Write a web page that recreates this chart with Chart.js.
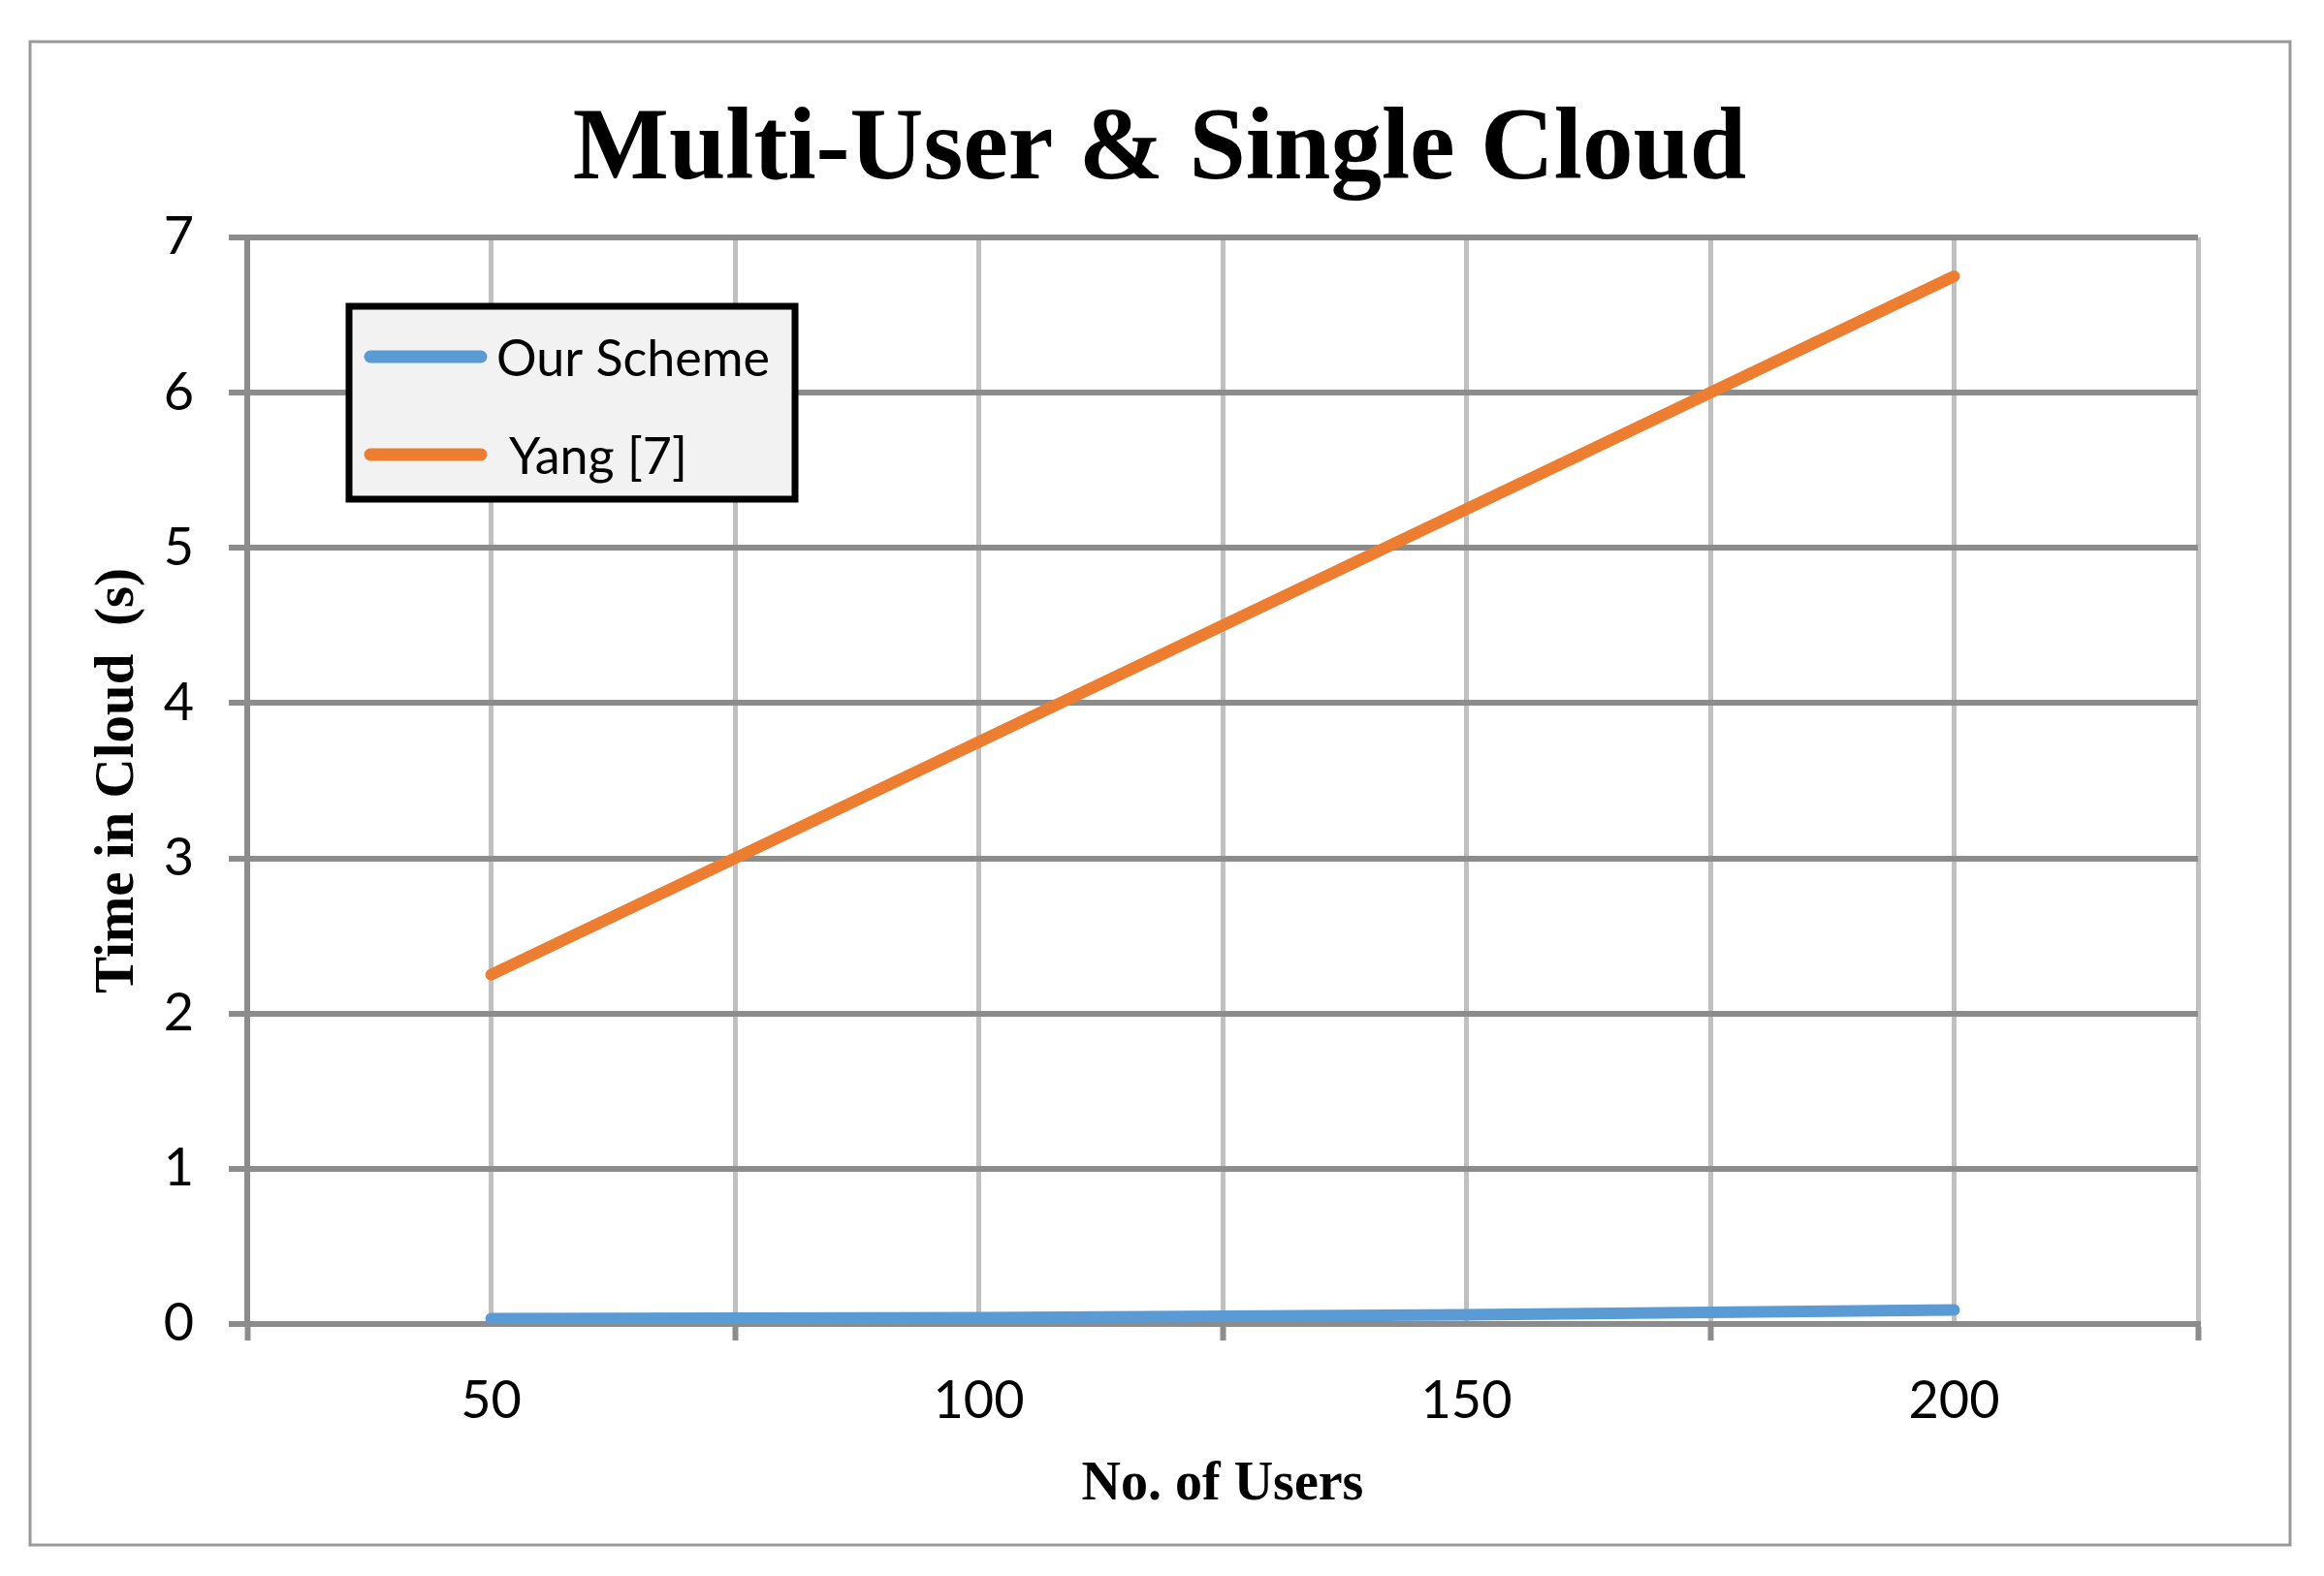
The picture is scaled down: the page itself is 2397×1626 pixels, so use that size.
<!DOCTYPE html>
<html>
<head>
<meta charset="utf-8">
<title>Multi-User & Single Cloud</title>
<script src="https://cdn.jsdelivr.net/npm/chart.js@4.4.1/dist/chart.umd.min.js"></script>
<style>
    html, body { margin: 0; padding: 0; background: #ffffff; }
    #wrap { position: relative; width: 2397px; height: 1626px; }
</style>
</head>
<body>
<div id="wrap"><canvas id="myChart"></canvas></div>
<script>
var chartTitle = 'Multi-User & Single Cloud';
var xTitle = 'No. of Users';
var yTitle = 'Time in Cloud  (s)';

var users = [50, 100, 150, 200];
var ourScheme = [0.035, 0.04, 0.06, 0.09];
var yang = [2.25, 3.75, 5.25, 6.75];

var seriesNames = ['Our Scheme', 'Yang [7]'];
var seriesColors = ['#5b9bd5', '#ed7d31'];

var xTicks = [25, 50, 75, 100, 125, 150, 175, 200, 225];
var xLabels = [50, 100, 150, 200];
var yTicks = [0, 1, 2, 3, 4, 5, 6, 7];

function toPoints(values) {
    return users.map(function (u, i) {
        return { x: u, y: values[i] };
    });
}

var data = {
    datasets: [ourScheme, yang].map(function (values, i) {
        return {
            label: seriesNames[i],
            data: toPoints(values),
            borderColor: seriesColors[i],
            backgroundColor: seriesColors[i],
            borderWidth: 12,
            borderCapStyle: 'round',
            borderJoinStyle: 'round',
            pointRadius: 0,
            tension: 0
        };
    })
};

// frame + title + legend box, drawn like the Excel original
var decorPlugin = {
    id: 'decor',
    beforeDraw: function (chart) {
        var ctx = chart.ctx;
        ctx.save();
        ctx.strokeStyle = '#9a9a9a';
        ctx.lineWidth = 3;
        ctx.strokeRect(31, 43, 2331, 1551);
        ctx.restore();
    },
    afterDraw: function (chart) {
        var ctx = chart.ctx;
        ctx.save();
        ctx.fillStyle = '#000';
        ctx.font = 'bold 105px "Liberation Serif"';
        ctx.textAlign = 'center';
        ctx.textBaseline = 'middle';
        ctx.fillText(chartTitle, 1196, 157);

        // legend
        ctx.fillStyle = '#f2f2f2';
        ctx.fillRect(360, 316, 460, 199);
        ctx.strokeStyle = '#000';
        ctx.lineWidth = 7;
        ctx.strokeRect(360, 316, 460, 199);
        var rows = [368, 469];
        var textX = [512, 525];
        chart.data.datasets.forEach(function (ds, i) {
            ctx.strokeStyle = ds.borderColor;
            ctx.lineWidth = 13;
            ctx.lineCap = 'round';
            ctx.beginPath();
            ctx.moveTo(382, rows[i]);
            ctx.lineTo(496, rows[i]);
            ctx.stroke();
            ctx.fillStyle = '#000';
            ctx.font = '52px Lato';
            ctx.textAlign = 'left';
            ctx.textBaseline = 'middle';
            ctx.fillText(ds.label, textX[i], rows[i] + 3);
        });
        ctx.restore();
    }
};

var options = {
    responsive: true,
    maintainAspectRatio: false,
    animation: false,
    layout: { padding: { left: 31, right: 130, top: 245, bottom: 32 } },
    plugins: {
        legend: { display: false },
        title: { display: false },
        tooltip: { enabled: false }
    },
    scales: {
        x: {
            type: 'linear',
            min: 25,
            max: 225,
            afterBuildTicks: function (scale) {
                scale.ticks = xTicks.map(function (v) { return { value: v }; });
            },
            afterFit: function (scale) { scale.height = 228; },
            grid: {
                color: '#c0c0c0',
                lineWidth: 5,
                tickLength: 17,
                tickWidth: 6,
                tickColor: function (c) {
                    return xLabels.indexOf(c.tick.value) >= 0 ? 'rgba(0,0,0,0)' : '#8c8c8c';
                }
            },
            border: { color: '#8c8c8c', width: 6 },
            ticks: {
                autoSkip: false,
                maxRotation: 0,
                padding: 30,
                color: '#000',
                font: { family: 'Lato', size: 54 },
                callback: function (v) { return xLabels.indexOf(v) >= 0 ? String(v) : ''; }
            },
            title: {
                display: true,
                text: xTitle,
                color: '#000',
                font: { family: 'Liberation Serif', size: 56, weight: 'bold' },
                padding: { top: 0, bottom: 28 }
            }
        },
        y: {
            min: 0,
            max: 7,
            afterBuildTicks: function (scale) {
                scale.ticks = yTicks.map(function (v) { return { value: v }; });
            },
            afterFit: function (scale) { scale.width = 224; },
            grid: {
                color: '#8c8c8c',
                lineWidth: 6,
                tickLength: 19,
                tickColor: '#8c8c8c'
            },
            border: { color: '#8c8c8c', width: 6 },
            ticks: {
                padding: 36,
                color: '#000',
                font: { family: 'Lato', size: 54 }
            },
            title: {
                display: true,
                text: yTitle,
                color: '#000',
                font: { family: 'Liberation Serif', size: 57, weight: 'bold' },
                padding: { top: 57, bottom: 0 }
            }
        }
    }
};

var ctx = document.getElementById('myChart').getContext('2d');
var myChart = new Chart(ctx, {
    type: 'line',
    data: data,
    options: options,
    plugins: [decorPlugin]
});
</script>
</body>
</html>
